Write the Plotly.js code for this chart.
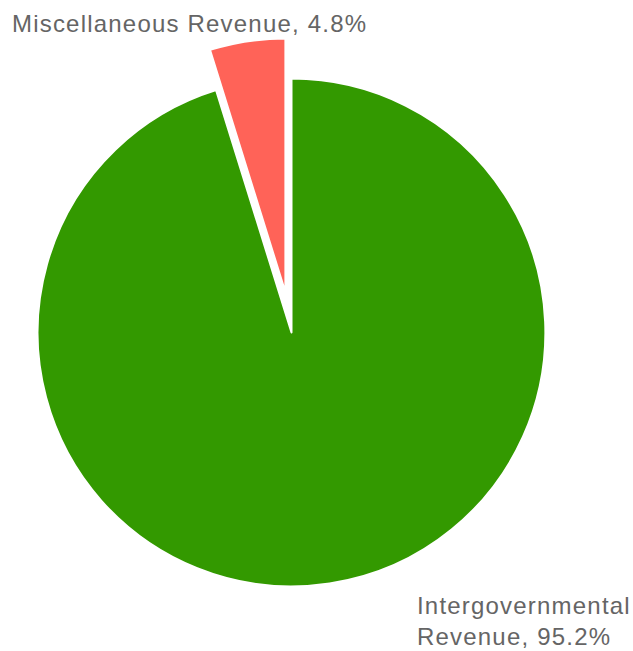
<!DOCTYPE html>
<html>
<head>
<meta charset="utf-8">
<script src="https://cdn.plot.ly/plotly-3.0.1.min.js"></script>
<style>
  html, body { margin: 0; padding: 0; overflow: hidden; background: #fff; }
  #chart { position: absolute; left: -3px; top: 0; width: 639px; height: 651px; }
  .annotation-text { letter-spacing: 1.2px; }
</style>
</head>
<body>
<div id="chart"></div>
<script>
const categories = ["Intergovernmental Revenue", "Miscellaneous Revenue"];
const shares = [95.2, 4.8];
const sliceColors = ["#339900", "#ff6358"];
const pulls = [0, 0.16];
const labelText = ["Intergovernmental<br>Revenue, 95.2%", "Miscellaneous Revenue, 4.8%"];

const W = 639, H = 651, M = {l: 0, r: 50, t: 38, b: 24};
const pw = W - M.l - M.r, ph = H - M.t - M.b;
const offX = -3;
function px2x(px) { return (px - offX - M.l) / pw; }
function py2y(py) { return 1 - (py - M.t) / ph; }

const trace = {
  type: "pie",
  labels: categories,
  values: shares,
  sort: false,
  direction: "clockwise",
  rotation: 0,
  pull: pulls,
  marker: { colors: sliceColors, line: { color: "#ffffff", width: 2 } },
  textinfo: "none",
  hoverinfo: "label+percent",
  showlegend: false
};

const font = { family: "Liberation Sans, Arial, sans-serif", size: 24, color: "#656565" };
const layout = {
  width: W, height: H,
  margin: M,
  paper_bgcolor: "#ffffff",
  showlegend: false,
  annotations: [
    { text: labelText[1], xref: "paper", yref: "paper", x: px2x(10), y: py2y(23),
      xanchor: "left", yanchor: "middle", showarrow: false, align: "left", font: font },
    { text: labelText[0], xref: "paper", yref: "paper", x: px2x(415), y: py2y(621),
      xanchor: "left", yanchor: "middle", showarrow: false, align: "left", font: font }
  ]
};
Plotly.newPlot("chart", [trace], layout, { displayModeBar: false, staticPlot: true });
</script>
</body>
</html>
